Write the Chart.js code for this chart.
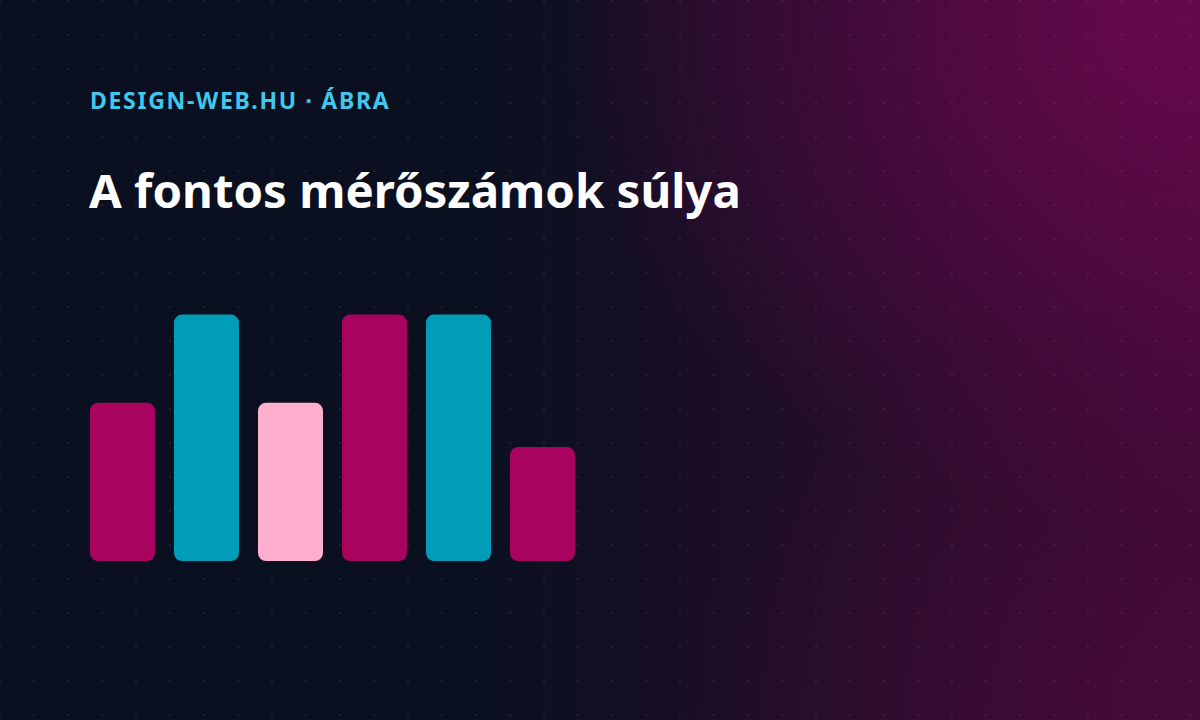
<!DOCTYPE html>
<html>
<head>
<meta charset="utf-8">
<script src="https://cdn.jsdelivr.net/npm/chart.js@4.4.1/dist/chart.umd.min.js"></script>
<style>
  html, body { margin: 0; padding: 0; width: 1200px; height: 720px; overflow: hidden; }
  body {
    position: relative;
    background-color: #0a1020;
    background-image:
      radial-gradient(ellipse 620px 520px at 1180px 20px, rgba(110, 8, 80, 0.85), rgba(110, 8, 80, 0) 100%),
      radial-gradient(ellipse 520px 420px at 1200px 720px, rgba(80, 10, 62, 0.6), rgba(80, 10, 62, 0) 100%),
      linear-gradient(90deg, rgba(10,16,32,0) 0%, rgba(10,16,32,0) 40%, rgba(62, 10, 52, 0.95) 100%);
    font-family: "Segoe UI", "Noto Sans", "Open Sans", sans-serif;
  }
  #dots { position: absolute; left: 0; top: 0; width: 1200px; height: 720px;
    background-image: radial-gradient(circle, rgba(255,255,255,0.08) 0.9px, rgba(255,255,255,0) 1.3px);
    background-size: 34px 34px; background-position: -17px -16px; }
  #kicker { position: absolute; left: 90px; top: 84px; color: #42c7ec; font-weight: 700; font-size: 23px; letter-spacing: 1.7px; white-space: nowrap; }
  #title { position: absolute; left: 89px; top: 157px; color: #ffffff; font-weight: 700; font-size: 47.4px; white-space: nowrap; }
  #wrap { position: absolute; left: 0; top: 0; width: 1200px; height: 720px; }
</style>
</head>
<body>
<div id="dots"></div>
<div id="kicker">DESIGN-WEB.HU · ÁBRA</div>
<div id="title">A fontos mérőszámok súlya</div>
<div id="wrap"><canvas id="c" width="1200" height="720"></canvas></div>
<script>
const categories = ["1", "2", "3", "4", "5", "6"];
const values = [56.5, 88, 56.5, 88, 88, 40.7];
const barColors = ["#a90360", "#009cb8", "#ffaecd", "#a90360", "#009cb8", "#a90360"];

new Chart(document.getElementById('c'), {
  type: 'bar',
  data: {
    labels: categories,
    datasets: [{
      data: values,
      backgroundColor: barColors,
      borderRadius: 8,
      borderSkipped: false,
      barPercentage: 1,
      categoryPercentage: 65 / 84
    }]
  },
  options: {
    responsive: false,
    animation: false,
    devicePixelRatio: 1,
    layout: { padding: { left: 80.5, right: 615.5, top: 281, bottom: 159 } },
    plugins: { legend: { display: false }, tooltip: { enabled: false }, title: { display: false } },
    scales: {
      x: { display: false },
      y: { display: false, min: 0, max: 100 }
    }
  }
});
</script>
</body>
</html>
